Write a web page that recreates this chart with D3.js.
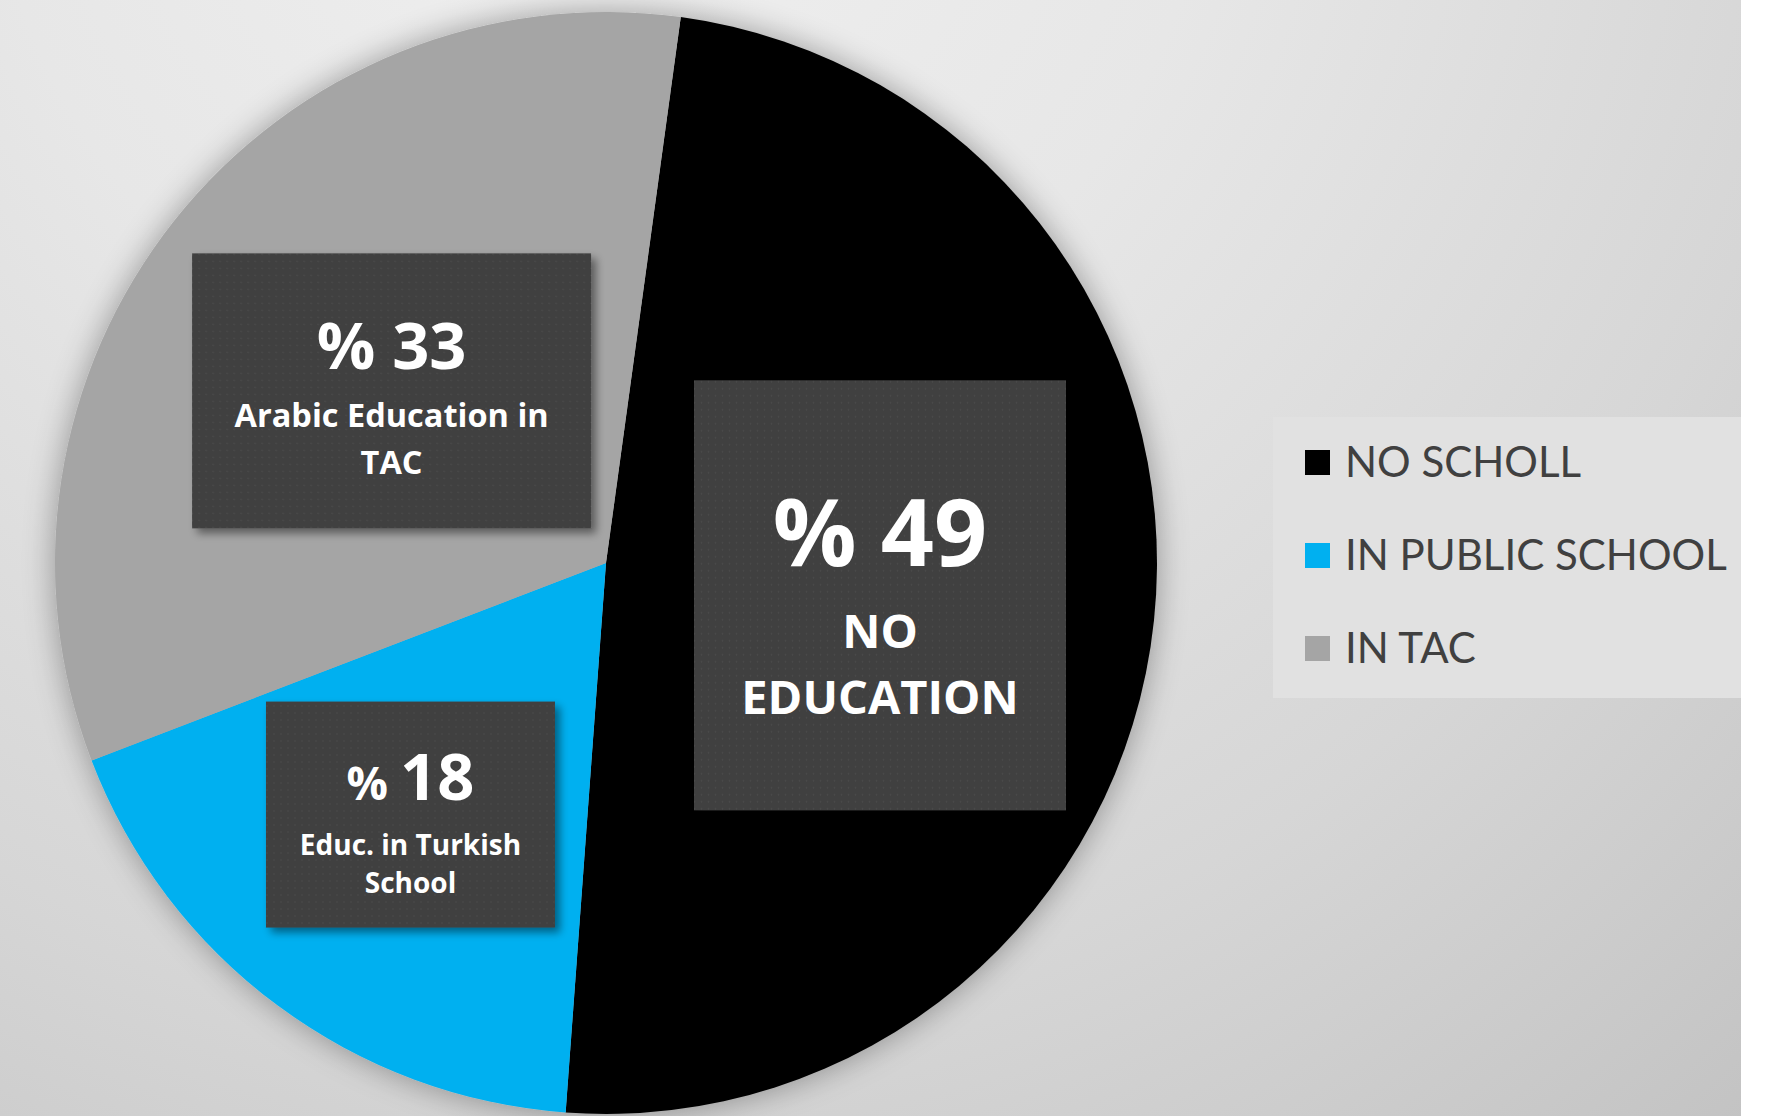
<!DOCTYPE html>
<html>
<head>
<meta charset="utf-8">
<script src="https://cdn.jsdelivr.net/npm/d3@7"></script>
<style>
  html, body { margin: 0; padding: 0; background: #ffffff; }
  svg { display: block; }
</style>
</head>
<body>
<svg id="chart" width="1792" height="1116"></svg>
<script>
// ---- data ----
const categories = ["NO SCHOLL", "IN PUBLIC SCHOOL", "IN TAC"];
const values = [49, 18, 33];
const labelPercents = ["49", "18", "33"];
const labelTexts = [["NO", "EDUCATION"], ["Educ. in Turkish", "School"], ["Arabic Education in", "TAC"]];
const colors = ["#000000", "#00b0f0", "#a5a5a5"];

// ---- layout / style ----
const W = 1792, H = 1116, plotW = 1741;
const cx = 606, cy = 563, R = 551;
const startDeg = 7.8;
const boxStyle = [
  { rf: 0.50, dx: 0, dy: 3.5, w: 372, h: 430, pctSize: 93, pctSignSize: 93, pctBase: -29, lineSize: 47, lines: [53, 119] },
  { rf: 0.58, dx: -5, dy: -5, w: 289, h: 226, pctSize: 65, pctSignSize: 46, pctBase: -15, lineSize: 28, lines: [40, 78] },
  { rf: 0.50, dx: 1.5, dy: -1, w: 399, h: 275, pctSize: 65, pctSignSize: 65, pctBase: -21.5, lineSize: 32.5, lines: [36.5, 83.5] }
];
const labelFont = "'Open Sans', 'Noto Sans', 'DejaVu Sans', sans-serif";
const legendFont = "Lato, 'Open Sans', 'DejaVu Sans', sans-serif";

const svg = d3.select("#chart");
const defs = svg.append("defs");

// background gradient
const bg = defs.append("radialGradient").attr("id", "bg")
  .attr("gradientUnits", "userSpaceOnUse")
  .attr("cx", 600).attr("cy", -200).attr("r", 1750);
bg.append("stop").attr("offset", "0%").attr("stop-color", "#f0f0f0");
bg.append("stop").attr("offset", "35%").attr("stop-color", "#e7e7e7");
bg.append("stop").attr("offset", "70%").attr("stop-color", "#d6d6d6");
bg.append("stop").attr("offset", "100%").attr("stop-color", "#c3c3c3");

// pie shadow
const ps = defs.append("filter").attr("id", "pieShadow")
  .attr("x", "-20%").attr("y", "-20%").attr("width", "140%").attr("height", "140%");
ps.append("feGaussianBlur").attr("in", "SourceAlpha").attr("stdDeviation", 16).attr("result", "b");
ps.append("feComponentTransfer").attr("in", "b").attr("result", "b2")
  .append("feFuncA").attr("type", "linear").attr("slope", 0.35);
const psm = ps.append("feMerge");
psm.append("feMergeNode").attr("in", "b2");
psm.append("feMergeNode").attr("in", "SourceGraphic");

// box shadow
const bs = defs.append("filter").attr("id", "boxShadow")
  .attr("x", "-20%").attr("y", "-20%").attr("width", "140%").attr("height", "140%");
bs.append("feGaussianBlur").attr("in", "SourceAlpha").attr("stdDeviation", 4).attr("result", "b");
bs.append("feOffset").attr("in", "b").attr("dx", 5).attr("dy", 5).attr("result", "o");
bs.append("feComponentTransfer").attr("in", "o").attr("result", "o2")
  .append("feFuncA").attr("type", "linear").attr("slope", 0.45);
const bsm = bs.append("feMerge");
bsm.append("feMergeNode").attr("in", "o2");
bsm.append("feMergeNode").attr("in", "SourceGraphic");

// dotted texture
const pat = defs.append("pattern").attr("id", "dots")
  .attr("patternUnits", "userSpaceOnUse").attr("width", 7).attr("height", 7);
pat.append("rect").attr("width", 7).attr("height", 7).attr("fill", "#3f3f3f");
pat.append("circle").attr("cx", 3.5).attr("cy", 3.5).attr("r", 1).attr("fill", "#4b4b4b");

// background
svg.append("rect").attr("x", 0).attr("y", 0).attr("width", plotW).attr("height", H).attr("fill", "url(#bg)");

// pie
const pie = d3.pie().sort(null).value(d => d)
  .startAngle(startDeg * Math.PI / 180)
  .endAngle((startDeg + 360) * Math.PI / 180);
const arcs = pie(values);
const arc = d3.arc().innerRadius(0).outerRadius(R);

const g = svg.append("g").attr("transform", `translate(${cx},${cy})`);
g.append("g").attr("filter", "url(#pieShadow)")
  .selectAll("path").data(arcs).join("path")
  .attr("d", arc)
  .attr("fill", (d, i) => colors[i]);

// data labels
const labels = g.selectAll("g.lbl").data(arcs).join("g").attr("class", "lbl")
  .attr("transform", (d, i) => {
    const s = boxStyle[i];
    const la = d3.arc().innerRadius(R * s.rf).outerRadius(R * s.rf);
    const [x, y] = la.centroid(d);
    return `translate(${x + s.dx},${y + s.dy})`;
  });

labels.append("rect")
  .attr("x", (d, i) => -boxStyle[i].w / 2)
  .attr("y", (d, i) => -boxStyle[i].h / 2)
  .attr("width", (d, i) => boxStyle[i].w)
  .attr("height", (d, i) => boxStyle[i].h)
  .attr("fill", "url(#dots)")
  .attr("filter", "url(#boxShadow)");

labels.each(function(d, i) {
  const s = boxStyle[i];
  const sel = d3.select(this);
  const t = sel.append("text")
    .attr("x", 0).attr("y", s.pctBase)
    .attr("text-anchor", "middle")
    .attr("fill", "#ffffff")
    .attr("font-family", labelFont)
    .attr("font-weight", 700);
  t.append("tspan").attr("font-size", s.pctSignSize).text("% ");
  t.append("tspan").attr("font-size", s.pctSize).text(labelPercents[i]);
  labelTexts[i].forEach((line, j) => {
    sel.append("text")
      .attr("x", 0).attr("y", s.lines[j])
      .attr("text-anchor", "middle")
      .attr("fill", "#ffffff")
      .attr("font-family", labelFont)
      .attr("font-weight", 700)
      .attr("font-size", s.lineSize)
      .text(line);
  });
});

// legend
const legend = svg.append("g");
legend.append("rect")
  .attr("x", 1273).attr("y", 417).attr("width", plotW - 1273).attr("height", 281)
  .attr("fill", "#e1e1e1");
const rowY = d3.scalePoint().domain(categories).range([477, 663]);
const items = legend.selectAll("g.item").data(categories).join("g").attr("class", "item");
items.append("rect")
  .attr("x", 1305).attr("y", d => rowY(d) - 27)
  .attr("width", 25).attr("height", 25)
  .attr("fill", (d, i) => colors[i]);
items.append("text")
  .attr("x", 1345).attr("y", d => rowY(d))
  .attr("fill", "#404040")
  .attr("font-family", legendFont)
  .attr("font-size", 42)
  .text(d => d);
</script>
</body>
</html>
